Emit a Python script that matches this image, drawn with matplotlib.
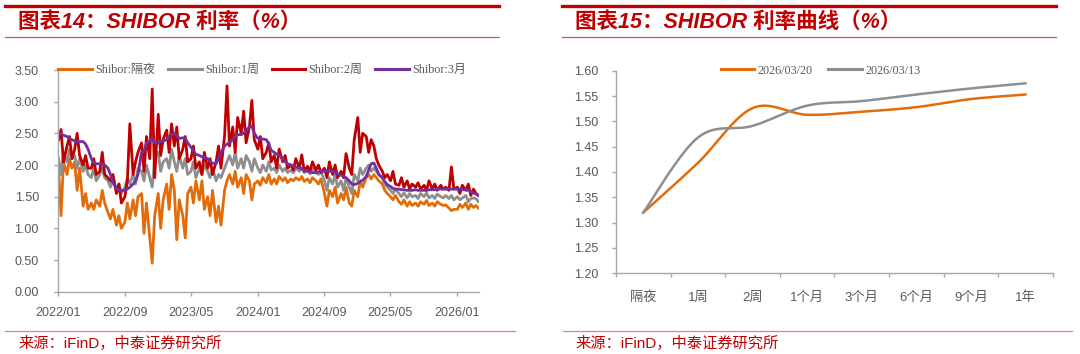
import numpy as np
import pandas as pd
import matplotlib
matplotlib.use("Agg")
import matplotlib.pyplot as plt
import matplotlib.dates as mdates
from matplotlib.ticker import FormatStrFormatter

# ---- left chart: SHIBOR daily (3 points per month) ----
start_month = "2022-01-01"
n_months = 51
day_offsets = (1, 10, 19)

overnight = [
    (1.95, 1.20, 2.05), (1.85, 2.10, 1.95), (2.05, 1.60, 1.95), (1.35, 1.55, 1.30),
    (1.40, 1.30, 1.45), (1.35, 1.60, 1.40), (1.25, 1.15, 1.30), (1.05, 1.20, 1.00),
    (1.10, 1.40, 1.15), (1.45, 1.20, 1.50), (1.55, 0.92, 1.40), (0.85, 0.45, 1.20),
    (1.55, 1.00, 1.45), (1.70, 1.30, 1.85), (1.60, 0.82, 1.45), (1.20, 0.85, 1.55),
    (1.65, 1.40, 1.75), (1.45, 1.75, 1.30), (1.50, 1.20, 1.60), (1.10, 1.35, 1.05),
    (1.60, 1.75, 1.85), (1.70, 1.90, 1.65), (1.80, 1.55, 1.85), (1.75, 1.45, 1.70),
    (1.75, 1.68, 1.80), (1.72, 1.85, 1.70), (1.78, 1.70, 1.82), (1.75, 1.80, 1.72),
    (1.78, 1.75, 1.80), (1.76, 1.82, 1.74), (1.78, 1.72, 1.80), (1.75, 1.70, 1.78),
    (1.55, 1.35, 1.60), (1.50, 1.65, 1.40), (1.55, 1.45, 1.65), (1.40, 1.35, 1.60),
    (1.50, 1.75, 1.65), (1.80, 1.85, 1.78), (1.85, 1.80, 1.75), (1.70, 1.60, 1.55),
    (1.50, 1.45, 1.52), (1.42, 1.38, 1.45), (1.35, 1.42, 1.36), (1.40, 1.35, 1.42),
    (1.38, 1.44, 1.36), (1.40, 1.35, 1.42), (1.38, 1.36, 1.37), (1.32, 1.28, 1.30),
    (1.30, 1.38, 1.33), (1.40, 1.30, 1.38), (1.33, 1.36, 1.32),
]
week1 = [
    (2.10, 1.85, 2.20), (2.05, 2.25, 2.10), (2.15, 1.95, 2.10), (1.90, 2.00, 1.85),
    (1.80, 1.95, 1.75), (1.85, 1.95, 1.80), (1.75, 1.65, 1.80), (1.60, 1.70, 1.55),
    (1.65, 1.80, 1.70), (1.85, 1.70, 1.95), (1.90, 1.75, 2.00), (1.80, 1.65, 2.10),
    (2.20, 1.90, 2.05), (2.10, 1.95, 2.25), (2.05, 1.90, 2.15), (1.95, 2.10, 1.85),
    (1.90, 2.05, 1.80), (1.95, 1.85, 2.00), (1.90, 1.80, 1.95), (1.75, 1.85, 1.80),
    (1.95, 2.05, 2.15), (2.00, 2.20, 1.95), (2.10, 1.95, 2.15), (2.05, 1.90, 2.10),
    (1.95, 1.88, 2.00), (1.90, 2.05, 1.92), (1.95, 1.88, 2.00), (1.90, 1.95, 1.88),
    (1.92, 1.88, 1.95), (1.90, 1.95, 1.88), (1.92, 1.86, 1.95), (1.88, 1.85, 1.90),
    (1.75, 1.60, 1.80), (1.70, 1.85, 1.65), (1.75, 1.60, 1.80), (1.65, 1.55, 1.85),
    (1.75, 1.95, 1.85), (1.95, 2.00, 1.90), (1.95, 1.90, 1.85), (1.80, 1.70, 1.65),
    (1.60, 1.55, 1.62), (1.55, 1.50, 1.56), (1.48, 1.55, 1.50), (1.52, 1.47, 1.55),
    (1.50, 1.56, 1.48), (1.52, 1.47, 1.54), (1.50, 1.48, 1.52), (1.47, 1.52, 1.45),
    (1.50, 1.45, 1.48), (1.52, 1.42, 1.47), (1.48, 1.47, 1.42),
]
week2 = [
    (2.40, 2.56, 2.05), (2.30, 2.45, 2.10), (2.25, 2.50, 2.15), (2.00, 2.15, 1.95),
    (1.95, 2.10, 1.85), (1.90, 2.20, 1.85), (1.80, 1.75, 1.85), (1.55, 1.70, 1.40),
    (1.50, 1.75, 2.65), (1.85, 2.05, 2.20), (2.35, 1.90, 2.45), (2.10, 3.20, 1.80),
    (2.80, 2.15, 2.40), (2.55, 2.20, 2.65), (2.30, 2.60, 2.10), (2.25, 2.45, 2.05),
    (2.10, 2.30, 1.95), (2.05, 1.85, 2.20), (1.95, 2.10, 1.85), (2.05, 2.30, 1.95),
    (2.45, 3.25, 2.30), (2.60, 2.20, 2.75), (2.50, 2.85, 2.35), (2.60, 3.02, 2.40),
    (2.25, 2.45, 2.10), (2.20, 2.35, 2.05), (2.15, 1.95, 2.25), (2.05, 2.15, 1.95),
    (2.00, 1.92, 2.10), (1.95, 2.16, 1.90), (1.98, 1.90, 2.05), (1.92, 2.00, 1.88),
    (1.95, 1.80, 2.05), (1.85, 2.00, 1.80), (1.90, 1.80, 2.18), (1.95, 1.85, 2.40),
    (2.75, 2.20, 2.50), (2.45, 2.20, 2.40), (2.30, 2.10, 2.00), (1.90, 1.80, 1.85),
    (1.75, 1.90, 1.70), (1.68, 1.80, 1.65), (1.75, 1.62, 1.70), (1.65, 1.72, 1.62),
    (1.68, 1.60, 1.75), (1.62, 1.70, 1.60), (1.68, 1.62, 1.65), (1.60, 1.97, 1.62),
    (1.65, 1.55, 1.68), (1.60, 1.70, 1.52), (1.62, 1.55, 1.52),
]
month3 = [
    (2.50, 2.49, 2.47), (2.45, 2.42, 2.40), (2.38, 2.37, 2.37), (2.37, 2.33, 2.25),
    (2.10, 2.03, 2.02), (2.02, 2.02, 2.00), (1.95, 1.85, 1.72), (1.63, 1.60, 1.60),
    (1.60, 1.62, 1.65), (1.70, 1.75, 1.85), (2.20, 2.22, 2.35), (2.38, 2.42, 2.35),
    (2.35, 2.37, 2.38), (2.40, 2.45, 2.48), (2.50, 2.46, 2.42), (2.43, 2.42, 2.35),
    (2.28, 2.22, 2.17), (2.15, 2.13, 2.12), (2.10, 2.05, 2.03), (2.02, 2.10, 2.20),
    (2.30, 2.33, 2.36), (2.40, 2.45, 2.48), (2.48, 2.50, 2.55), (2.60, 2.62, 2.50),
    (2.42, 2.41, 2.41), (2.40, 2.33, 2.23), (2.20, 2.17, 2.16), (2.10, 2.05, 2.02),
    (2.00, 1.98, 1.97), (1.96, 1.94, 1.92), (1.90, 1.89, 1.88), (1.88, 1.89, 1.90),
    (1.90, 1.91, 1.90), (1.90, 1.88, 1.86), (1.84, 1.82, 1.80), (1.75, 1.70, 1.69),
    (1.71, 1.74, 1.76), (1.82, 1.92, 2.02), (2.03, 1.95, 1.85), (1.80, 1.74, 1.69),
    (1.66, 1.63, 1.62), (1.62, 1.61, 1.61), (1.60, 1.60, 1.60), (1.61, 1.60, 1.60),
    (1.60, 1.60, 1.61), (1.61, 1.61, 1.62), (1.62, 1.62, 1.62), (1.62, 1.62, 1.62),
    (1.62, 1.62, 1.61), (1.61, 1.60, 1.58), (1.56, 1.54, 1.52),
]
left_labels = ["Shibor:隔夜", "Shibor:1周", "Shibor:2周", "Shibor:3月"]
left_yticks = [0.0, 0.5, 1.0, 1.5, 2.0, 2.5, 3.0, 3.5]

# ---- right chart: SHIBOR curve ----
tenors = ["隔夜", "1周", "2周", "1个月", "3个月", "6个月", "9个月", "1年"]
curve_0320 = [1.320, 1.418, 1.526, 1.513, 1.519, 1.528, 1.544, 1.553]
curve_0313 = [1.320, 1.468, 1.491, 1.531, 1.540, 1.553, 1.565, 1.575]
right_labels = ["2026/03/20", "2026/03/13"]
right_yticks = [1.20, 1.25, 1.30, 1.35, 1.40, 1.45, 1.50, 1.55, 1.60]

ORANGE = "#E36C0A"
GRAY = "#8E8E8E"
RED = "#C00000"
PURPLE = "#7030A0"
TXT = "#595959"
SPINE = "#A6A6A6"

CJK_SANS = ["Liberation Sans", "Noto Sans CJK SC"]
CJK_SERIF = ["Liberation Serif", "Noto Sans CJK SC"]


def smooth(xs, ys, n=40):
    # excel style smoothed line (catmull-rom through the points)
    pts = np.column_stack([xs, ys]).astype(float)
    out = []
    for i in range(len(pts) - 1):
        p0 = pts[max(i - 1, 0)]
        p1 = pts[i]
        p2 = pts[i + 1]
        p3 = pts[min(i + 2, len(pts) - 1)]
        t = np.linspace(0, 1, n)[:, None]
        seg = 0.5 * ((2 * p1) + (-p0 + p2) * t + (2 * p0 - 5 * p1 + 4 * p2 - p3) * t ** 2
                     + (-p0 + 3 * p1 - 3 * p2 + p3) * t ** 3)
        out.append(seg if i == 0 else seg[1:])
    out = np.vstack(out)
    return out[:, 0], out[:, 1]


def style_axes(ax):
    for s in ["top", "right"]:
        ax.spines[s].set_visible(False)
    for s in ["left", "bottom"]:
        ax.spines[s].set_color(SPINE)
        ax.spines[s].set_linewidth(1.0)
    ax.tick_params(colors=SPINE, labelcolor=TXT, labelsize=9, length=3, width=1, direction="out")
    for lab in ax.get_xticklabels() + ax.get_yticklabels():
        lab.set_fontfamily(CJK_SANS)


fig = plt.figure(figsize=(10.8, 3.54), dpi=100)
W, H = 1080.0, 354.0


def fx(px):
    return px / W


def fy(py):
    return 1 - py / H


# frame decorations: header bars, titles, source lines
for x0, x1, tx, title in [(5, 499, 18, "图表14：SHIBOR 利率（%）"),
                          (562, 1056, 575, "图表15：SHIBOR 利率曲线（%）")]:
    fig.add_artist(plt.Line2D([fx(x0), fx(x1)], [fy(6), fy(6)], color=RED, lw=2.4))
    fig.add_artist(plt.Line2D([fx(x0), fx(x1)], [fy(36.5), fy(36.5)], color="#D9534F", lw=0.9))
    fig.text(fx(tx), fy(22), title, color=RED, fontsize=15.5, fontweight="bold",
             fontstyle="italic", family=CJK_SANS, va="center", ha="left")

for x0, x1, tx in [(5, 515, 18), (563, 1072, 575)]:
    fig.add_artist(plt.Line2D([fx(x0), fx(x1)], [fy(331), fy(331)], color="#E08080", lw=0.9))
    fig.text(fx(tx), fy(343), "来源：iFinD，中泰证券研究所", color=RED, fontsize=11,
             family=CJK_SANS, va="center", ha="left")

# ---- left axes ----
ax1 = fig.add_axes([fx(58.3), fy(291.7), fx(478.7) - fx(58.3), fy(70) - fy(291.7)])
months = pd.date_range(start_month, periods=n_months, freq="MS")
dates = [m + pd.Timedelta(days=d) for m in months for d in day_offsets]

series = [overnight, week1, week2, month3]
colors = [ORANGE, GRAY, RED, PURPLE]
for vals, c, lab in zip(series, colors, left_labels):
    y = np.array(vals).ravel()
    ax1.plot(dates, y, color=c, lw=2.0, label=lab, solid_joinstyle="round")

ax1.set_ylim(0, 3.5)
ax1.set_yticks(left_yticks)
ax1.yaxis.set_major_formatter(FormatStrFormatter("%.2f"))
ax1.set_xlim(pd.Timestamp("2022-01-01"), pd.Timestamp("2026-03-21"))
ax1.set_xticks(pd.date_range("2022-01-01", "2026-01-01", freq="8MS"))
ax1.xaxis.set_major_formatter(mdates.DateFormatter("%Y/%m"))
style_axes(ax1)
ax1.tick_params(axis="y", pad=11)
ax1.tick_params(axis="x", pad=8)
leg1 = ax1.legend(loc="center left", bbox_to_anchor=(0.0, 1.0), ncol=4, frameon=False,
                  borderaxespad=0, borderpad=0, handlelength=2.8, handletextpad=0.25,
                  columnspacing=1.05, prop={"family": CJK_SERIF, "size": 8.7})
for t in leg1.get_texts():
    t.set_color(TXT)
for h in leg1.get_lines():
    h.set_linewidth(2.2)

# ---- right axes ----
ax2 = fig.add_axes([fx(616), fy(273.3), fx(1052.7) - fx(616), fy(70.7) - fy(273.3)])
xpos = np.arange(len(tenors))
for vals, c, lab in [(curve_0320, ORANGE, right_labels[0]), (curve_0313, GRAY, right_labels[1])]:
    sx, sy = smooth(xpos, vals)
    ax2.plot(sx, sy, color=c, lw=1.8, label=lab)

ax2.set_xlim(-0.5, len(tenors) - 0.5)
ax2.set_ylim(1.20, 1.60)
ax2.set_yticks(right_yticks)
ax2.yaxis.set_major_formatter(FormatStrFormatter("%.2f"))
ax2.set_xticks(np.arange(-0.5, len(tenors), 1.0))
ax2.set_xticklabels([])
ax2.set_xticks(xpos, minor=True)
ax2.set_xticklabels(tenors, minor=True)
style_axes(ax2)
ax2.tick_params(axis="x", which="minor", length=0, pad=13, labelcolor=TXT, labelsize=9.5)
for lab in ax2.get_xticklabels(minor=True):
    lab.set_fontfamily(CJK_SANS)
ax2.tick_params(axis="y", pad=10)
leg2 = ax2.legend(loc="center", bbox_to_anchor=(0.468, 1.0), ncol=2, frameon=False,
                  borderaxespad=0, borderpad=0, handlelength=2.8, handletextpad=0.25,
                  columnspacing=1.3, prop={"family": CJK_SERIF, "size": 8.7})
for t in leg2.get_texts():
    t.set_color(TXT)
for h in leg2.get_lines():
    h.set_linewidth(2.2)

fig.savefig("out.png", dpi=100, facecolor="white")
